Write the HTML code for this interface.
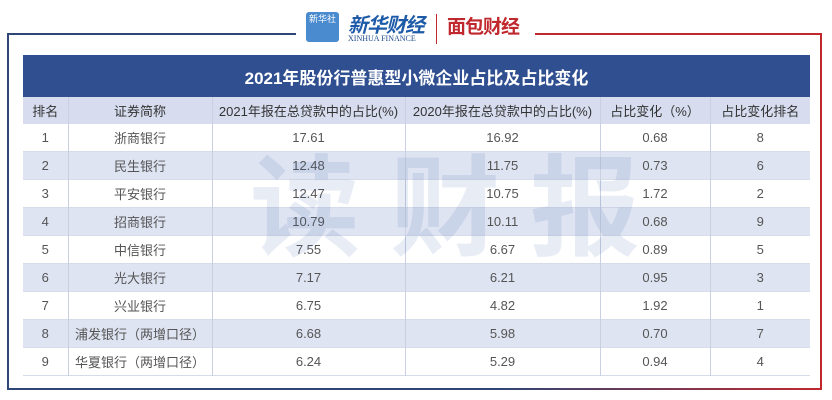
<!DOCTYPE html>
<html><head><meta charset="utf-8"><style>
body{margin:0;width:832px;height:400px;background:#fff;position:relative;overflow:hidden;font-family:"Liberation Sans","Noto Sans CJK SC",sans-serif;}
.abs{position:absolute}
table{position:absolute;left:23px;top:55px;width:787px;border-collapse:collapse;table-layout:fixed;}
td,th{text-align:center;font-size:13px;color:#555;border-right:1px solid #c9d0e2;padding:0;font-weight:normal;}
td:last-child,th:last-child{border-right:none}
tr.d td{height:27px;}
tr.e td{background:#dfe4f2}
tr.d{border-bottom:1px solid #d6dbe9}
.title th{background:#2f4f91;color:#fff;font-size:17px;font-weight:bold;height:42px;border:none}
.hd th{background:#d7ddef;color:#333;height:27px;font-size:13px;}
</style></head><body>
<div class="abs" style="left:7px;top:33px;width:289px;height:2px;background:#2e4777"></div>
<div class="abs" style="left:535px;top:33px;width:287px;height:2px;background:#c0282d"></div>
<div class="abs" style="left:7px;top:33px;width:2px;height:357px;background:#2e4777"></div>
<div class="abs" style="left:820px;top:33px;width:2px;height:357px;background:#c0282d"></div>
<div class="abs" style="left:7px;top:388px;width:815px;height:2px;background:linear-gradient(90deg,#2e4777,#2e4777 60%,#c0282d)"></div>
<div class="abs" style="left:306px;top:12px;width:33px;height:30px;background:#4a8bd0;border-radius:3px;color:#fff;font-size:9px;text-align:center;line-height:14px">新华社</div>
<div class="abs" style="left:348px;top:9px;font-size:20px;color:#1d5aa8;font-style:italic;font-weight:bold;letter-spacing:-1px">新华财经</div>
<div class="abs" style="left:348px;top:34px;font-size:8px;color:#1d4a8a;font-family:'Liberation Serif',serif">XINHUA FINANCE</div>
<div class="abs" style="left:436px;top:14px;width:1px;height:30px;background:#c0282d"></div>
<div class="abs" style="left:447px;top:12px;font-size:19px;color:#c0282d;font-weight:bold;letter-spacing:-1px">面包财经</div>
<table>
<colgroup><col style="width:45px"><col style="width:144px"><col style="width:193px"><col style="width:195px"><col style="width:110px"><col style="width:100px"></colgroup>
<tr class="title"><th colspan="6">2021年股份行普惠型小微企业占比及占比变化</th></tr>
<tr class="hd"><th>排名</th><th>证券简称</th><th>2021年报在总贷款中的占比(%)</th><th>2020年报在总贷款中的占比(%)</th><th>占比变化（%）</th><th>占比变化排名</th></tr>
<tr class="d"><td>1</td><td>浙商银行</td><td>17.61</td><td>16.92</td><td>0.68</td><td>8</td></tr>
<tr class="d e"><td>2</td><td>民生银行</td><td>12.48</td><td>11.75</td><td>0.73</td><td>6</td></tr>
<tr class="d"><td>3</td><td>平安银行</td><td>12.47</td><td>10.75</td><td>1.72</td><td>2</td></tr>
<tr class="d e"><td>4</td><td>招商银行</td><td>10.79</td><td>10.11</td><td>0.68</td><td>9</td></tr>
<tr class="d"><td>5</td><td>中信银行</td><td>7.55</td><td>6.67</td><td>0.89</td><td>5</td></tr>
<tr class="d e"><td>6</td><td>光大银行</td><td>7.17</td><td>6.21</td><td>0.95</td><td>3</td></tr>
<tr class="d"><td>7</td><td>兴业银行</td><td>6.75</td><td>4.82</td><td>1.92</td><td>1</td></tr>
<tr class="d e"><td>8</td><td>浦发银行（两增口径）</td><td>6.68</td><td>5.98</td><td>0.70</td><td>7</td></tr>
<tr class="d"><td>9</td><td>华夏银行（两增口径）</td><td>6.24</td><td>5.29</td><td>0.94</td><td>4</td></tr>
</table>
<div class="abs" style="left:250px;top:150px;font-size:110px;font-weight:bold;color:rgba(60,100,170,0.12);letter-spacing:30px;line-height:120px">读财报</div>
</body></html>
